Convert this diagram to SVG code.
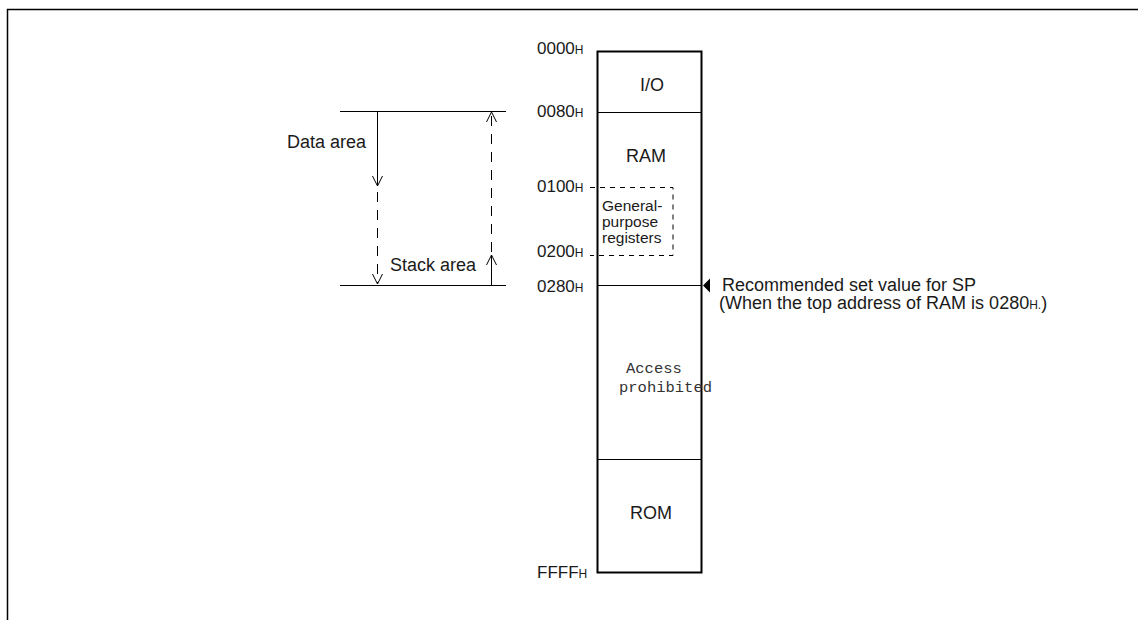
<svg xmlns="http://www.w3.org/2000/svg" width="1138" height="620" viewBox="0 0 1138 620">
<defs>
<style>
text{font-family:"Liberation Sans",Arial,sans-serif;fill:#1a1a1a;font-size:17px}
.sub{font-size:12px}
.lbl{font-size:18px}
.mono{font-family:"Liberation Mono","Courier New",monospace;font-size:15.5px;fill:#333}
.small{font-size:15.5px}
.thin{stroke:#000;stroke-width:1;fill:none}
.dash{stroke:#000;stroke-width:1;fill:none;stroke-dasharray:10 8}
.dot{stroke:#000;stroke-width:1;fill:none;stroke-dasharray:5 5}
</style>
<marker id="open" viewBox="0 0 10 12" refX="10" refY="6" markerWidth="10" markerHeight="12" markerUnits="userSpaceOnUse" orient="auto">
<path d="M0,1 L10,6 L0,11" fill="none" stroke="#000" stroke-width="1"/>
</marker>
</defs>
<rect width="1138" height="620" fill="#fff"/>
<path d="M7.5,620 V9.5 H1138" fill="none" stroke="#000" stroke-width="1.5"/>

<g id="memory-map">
<rect x="597.5" y="51.5" width="104" height="521" fill="none" stroke="#000" stroke-width="2"/>
<line x1="597" y1="112.5" x2="702" y2="112.5" class="thin"/>
<line x1="597" y1="285.5" x2="702" y2="285.5" class="thin"/>
<line x1="597" y1="459.5" x2="702" y2="459.5" class="thin"/>
</g>
<g id="io"><text x="652" y="91" text-anchor="middle" class="lbl">I/O</text></g>
<g id="ram"><text x="646" y="162" text-anchor="middle" class="lbl">RAM</text></g>
<g id="gpr">
<path d="M590,187.5 H673 V255.5 H590" class="dot"/>
<text x="602" y="210.5" class="small">General-</text>
<text x="602" y="227" class="small">purpose</text>
<text x="602" y="242.5" class="small">registers</text>
</g>
<g id="access"><text x="626" y="373" class="mono">Access</text><text x="619" y="392" class="mono">prohibited</text></g>
<g id="rom"><text x="651" y="519" text-anchor="middle" class="lbl">ROM</text></g>

<g id="addresses">
<text x="537" y="54">0000<tspan class="sub">H</tspan></text>
<text x="537" y="117">0080<tspan class="sub">H</tspan></text>
<text x="537" y="192">0100<tspan class="sub">H</tspan></text>
<text x="537" y="257">0200<tspan class="sub">H</tspan></text>
<text x="537" y="292">0280<tspan class="sub">H</tspan></text>
<text x="537" y="578">FFFF<tspan class="sub">H</tspan></text>
</g>

<g id="sp-note">
<path d="M703,285.5 L710,278.5 L710,292.5 Z" fill="#000"/>
<text x="722" y="291" class="lbl">Recommended set value for SP</text>
<text x="719" y="309" class="lbl">(When the top address of RAM is 0280<tspan class="sub">H.</tspan>)</text>
</g>

<g id="areas">
<line x1="340" y1="111.5" x2="506" y2="111.5" class="thin"/>
<line x1="340" y1="285.5" x2="506" y2="285.5" class="thin"/>
<text x="287" y="148" class="lbl">Data area</text>
<text x="390" y="271" class="lbl">Stack area</text>
</g>
<g id="connectors">
<line x1="377.5" y1="111" x2="377.5" y2="186" class="thin" marker-end="url(#open)"/>
<line x1="377.5" y1="192" x2="377.5" y2="284" class="dash" marker-end="url(#open)"/>
<line x1="491.5" y1="252" x2="491.5" y2="112" class="dash" stroke="#666" marker-end="url(#open)"/>
<line x1="491.5" y1="285" x2="491.5" y2="255" class="thin" marker-end="url(#open)"/>
</g>
</svg>
